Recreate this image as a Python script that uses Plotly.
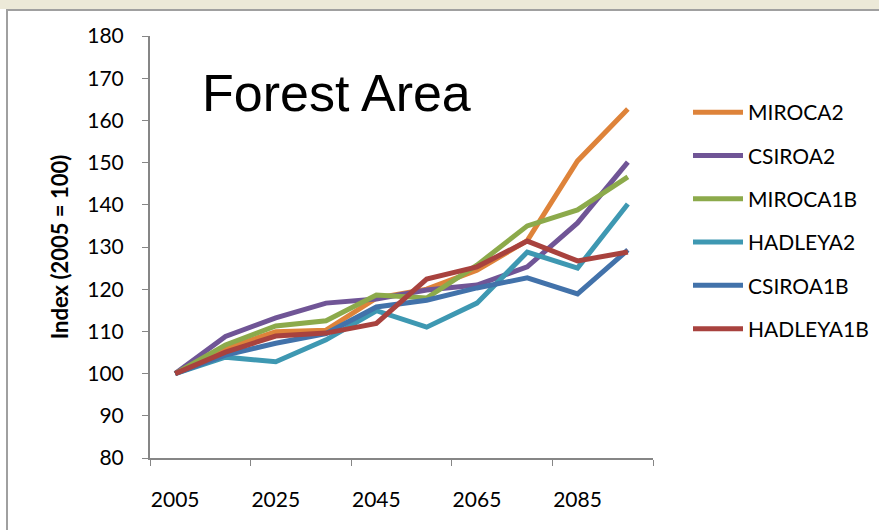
import plotly.graph_objects as go

years = [2005, 2015, 2025, 2035, 2045, 2055, 2065, 2075, 2085, 2095]
tick_years = [2005, 2025, 2045, 2065, 2085]
y_ticks = [80, 90, 100, 110, 120, 130, 140, 150, 160, 170, 180]

miroca2 = [100, 106.0, 109.9, 110.3, 117.9, 120.0, 124.5, 131.5, 150.4, 162.7]
csiroa2 = [100, 108.8, 113.2, 116.7, 117.7, 119.8, 121.0, 125.3, 135.7, 150.1]
miroca1b = [100, 106.8, 111.3, 112.5, 118.6, 117.9, 125.7, 135.0, 138.8, 146.6]
hadleya2 = [100, 103.9, 102.8, 108.0, 114.9, 111.0, 116.7, 128.8, 125.0, 140.2]
csiroa1b = [100, 104.4, 107.2, 109.5, 115.8, 117.4, 120.3, 122.7, 118.9, 129.3]
hadleya1b = [100, 105.1, 108.9, 109.6, 111.9, 122.4, 125.3, 131.4, 126.7, 128.8]

series = [
    ("MIROCA2", miroca2, "#DE833A"),
    ("CSIROA2", csiroa2, "#705596"),
    ("MIROCA1B", miroca1b, "#8CAA4B"),
    ("HADLEYA2", hadleya2, "#3E98B2"),
    ("CSIROA1B", csiroa1b, "#4272AA"),
    ("HADLEYA1B", hadleya1b, "#A8423E"),
]

W, H = 879, 530
ML, MR, MT, MB = 150, 226, 36, 72
pw, ph = W - ML - MR, H - MT - MB


def px_x(p):
    return (p - ML) / pw


def px_y(p):
    return (H - MB - p) / ph


fig = go.Figure()
for name, vals, color in series:
    fig.add_trace(go.Scatter(
        x=years, y=vals, name=name, mode="lines",
        line=dict(color=color, width=5),
        legendgroup=name,
    ))

label_font = dict(family="Lato, Calibri, sans-serif", size=21, color="#000000")

fig.update_layout(
    width=W, height=H,
    margin=dict(l=ML, r=MR, t=MT, b=MB, autoexpand=False),
    paper_bgcolor="white",
    plot_bgcolor="white",
    showlegend=True,
    legend=dict(
        x=px_x(688), y=px_y(92), xanchor="left", yanchor="top",
        font=label_font, tracegroupgap=13, itemwidth=50,
        bgcolor="rgba(0,0,0,0)",
    ),
    xaxis=dict(
        range=[2000, 2100], tickvals=tick_years, ticktext=[str(t) for t in tick_years],
        ticks="", showgrid=False, zeroline=False,
        showline=True, linecolor="#868686", linewidth=2,
        tickfont=label_font, ticklabelstandoff=22,
        minor=dict(tick0=2000, dtick=20, ticks="outside", ticklen=6,
                   tickcolor="#868686", tickwidth=1, showgrid=False),
    ),
    yaxis=dict(
        range=[80, 180], tickvals=y_ticks, ticks="outside", ticklen=6,
        tickcolor="#868686", showgrid=False, zeroline=False,
        showline=True, linecolor="#868686", linewidth=2,
        tickfont=label_font, ticklabelstandoff=14,
        title=dict(text="<b>Index (2005 = 100)</b>",
                   font=dict(family="Lato, Calibri, sans-serif", size=22, color="#000000"),
                   standoff=13),
    ),
    annotations=[dict(
        text="Forest Area", x=px_x(200), y=px_y(93), xref="paper", yref="paper",
        xanchor="left", yanchor="middle", showarrow=False,
        font=dict(family="Liberation Sans, Arial, sans-serif", size=52, color="#000000"),
    )],
    shapes=[
        # window strip along the top edge
        dict(type="rect", xref="paper", yref="paper",
             x0=px_x(0), x1=px_x(W), y0=px_y(0), y1=px_y(9),
             fillcolor="#ECE9D8", line=dict(width=0), layer="below"),
        dict(type="line", xref="paper", yref="paper",
             x0=px_x(6), x1=px_x(W), y0=px_y(10), y1=px_y(10),
             line=dict(color="#A0A0A0", width=2)),
        dict(type="line", xref="paper", yref="paper",
             x0=px_x(7), x1=px_x(7), y0=px_y(10), y1=px_y(H),
             line=dict(color="#A0A0A0", width=2)),
    ],
)

fig.write_html("out.html")
